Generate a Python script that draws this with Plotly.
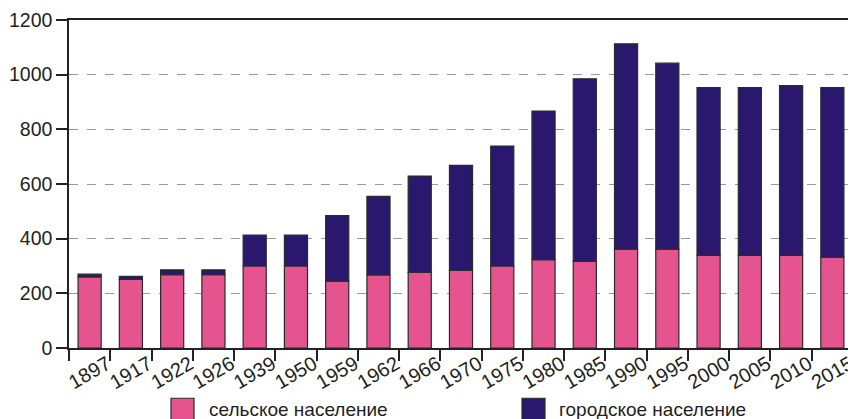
import plotly.graph_objects as go

years = ["1897", "1917", "1922", "1926", "1939", "1950", "1959", "1962", "1966", "1970",
         "1975", "1980", "1985", "1990", "1995", "2000", "2005", "2010", "2015"]
rural = [260, 251, 268, 268, 300, 300, 245, 267, 277, 284, 300, 323, 317, 362, 362, 339, 339, 339, 332]
total = [270, 262, 286, 286, 413, 413, 484, 555, 629, 668, 739, 867, 985, 1113, 1042, 953, 953, 960, 953]
urban = [t - r for t, r in zip(total, rural)]

rural_name = "сельское население"
urban_name = "городское население"
pink = "#E5548F"
navy = "#2A186E"
edge = "#2b2b2b"

# page body has an 8px margin; compensate so the chart lands where the reference has it
OFF = 8
W, H = 856 - OFF, 419 - OFF
L, R, T, B = 69 - OFF, 3, 19.5 - OFF, 71.3
pw, ph = W - L - R, H - T - B

idx = list(range(len(years)))

fig = go.Figure()
fig.add_bar(x=idx, y=rural, name=rural_name, marker=dict(color=pink, line=dict(color=edge, width=1.2)),
            width=0.56, showlegend=False)
fig.add_bar(x=idx, y=urban, base=rural, name=urban_name, marker=dict(color=navy, line=dict(color=edge, width=1.2)),
            width=0.56, showlegend=False)

tickvals = [-0.5] + [i + 0.5 for i in idx]
ticktext = [""] + years

fig.update_layout(
    width=W, height=H,
    margin=dict(l=L, r=R, t=T, b=B, pad=0, autoexpand=False),
    paper_bgcolor="white", plot_bgcolor="white",
    font=dict(family="Liberation Sans, Arial, sans-serif", size=20, color="#231f20"),
    barmode="overlay",
    showlegend=False,
)
fig.update_xaxes(
    range=[-0.5001, len(years) - 0.4999], tickvals=tickvals, ticktext=ticktext, tickangle=-30,
    ticks="outside", ticklen=11, tickwidth=1.5, tickcolor="#222", automargin=False,
    showline=True, linecolor="#222", linewidth=1.5, mirror=True, showgrid=False, zeroline=False,
    ticklabeloverflow="allow", tickfont=dict(size=20),
    ticklabelstandoff=-16, ticklabelshift=-3,
)
fig.update_yaxes(
    range=[0, 1200], dtick=200, ticks="outside", ticklen=11, tickwidth=1.5, tickcolor="#222",
    showline=True, linecolor="#222", linewidth=1.5, mirror=True, automargin=False,
    showgrid=True, gridcolor="#999999", griddash="dash", gridwidth=1.3, zeroline=False,
    ticklabeloverflow="allow", tickfont=dict(size=19.5),
)

def px_x(p):
    return (p - OFF - L) / pw

def px_y(p):
    return (H - B - (p - OFF)) / ph

for x0, x1, col, tx, name in [(171, 194, pink, 207, rural_name), (522, 545, navy, 557, urban_name)]:
    fig.add_shape(type="rect", xref="paper", yref="paper", x0=px_x(x0), x1=px_x(x1),
                  y0=px_y(398), y1=px_y(421), fillcolor=col, line=dict(color=edge, width=1.2))
    fig.add_annotation(xref="paper", yref="paper", x=px_x(tx), y=px_y(409), text=name,
                       showarrow=False, xanchor="left", yanchor="middle", font=dict(size=19))

fig.write_html("out.html")
